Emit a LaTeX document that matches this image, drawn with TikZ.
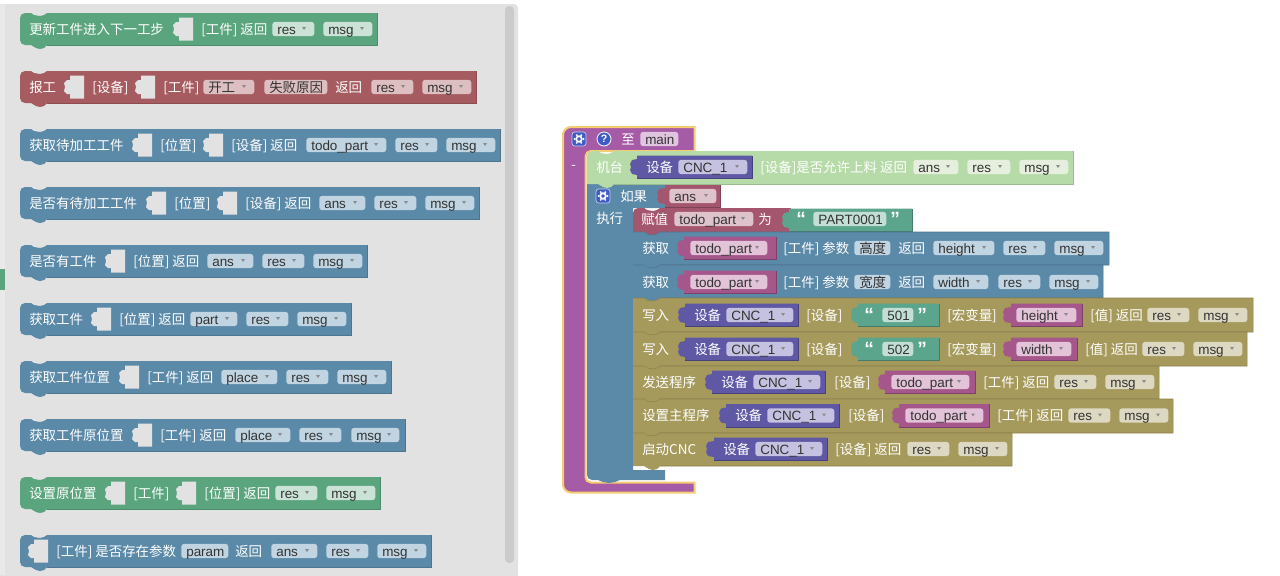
\documentclass[tikz,border=0pt]{standalone}
\usepackage{fontspec}
\setmainfont{Liberation Sans}
\newfontfamily\cjk{Noto Sans CJK SC}
\usetikzlibrary{positioning}

\definecolor{palgrey}{HTML}{E2E2E2}
\definecolor{stripgrey}{HTML}{E9E9E9}
\definecolor{scrollgrey}{HTML}{CBCBCB}
\definecolor{greenblk}{HTML}{5BA57E}
\definecolor{redblk}{HTML}{A55B5F}
\definecolor{blueblk}{HTML}{5B89A8}
\definecolor{tanblk}{HTML}{A5995B}
\definecolor{violetblk}{HTML}{5F58A5}
\definecolor{magentablk}{HTML}{A5568B}
\definecolor{roseblk}{HTML}{A5566F}
\definecolor{strblk}{HTML}{5BA58C}
\definecolor{hatblk}{HTML}{A55BA5}
\definecolor{limeblk}{HTML}{B7DBA8}
\definecolor{glow}{HTML}{F6CC72}
\definecolor{iconblue}{HTML}{3F5CC4}
\definecolor{greenpill}{HTML}{CBE3D6}
\definecolor{redpill}{HTML}{DEBFC1}
\definecolor{bluepill}{HTML}{C0D4E1}
\definecolor{tanpill}{HTML}{DDD8C2}
\definecolor{violetpill}{HTML}{C5C1E0}
\definecolor{magentapill}{HTML}{E3C3D8}
\definecolor{rosepill}{HTML}{DFC3CC}
\definecolor{strpill}{HTML}{C3DFD5}
\definecolor{hatpill}{HTML}{E0C5E0}
\definecolor{limepill}{HTML}{E6EFDD}

\tikzstyle{lbl} = [anchor=west, inner sep=0pt, xshift=-.75pt, text=white,
    font=\fontsize{10.1pt}{12pt}\selectfont, text height=9pt, text depth=1.3pt]
\tikzstyle{quotemark} = [lbl, font=\bfseries\Large]
\tikzstyle{pillbox} = [anchor=west, rounded corners=2.2pt, inner xsep=3.75pt, inner ysep=0pt,
    minimum height=10.8pt, text=black!80, align=left, font=\fontsize{10.1pt}{12pt}\selectfont,
    text height=9pt, text depth=1.3pt]
\tikzstyle{helpicon} = [circle, fill=iconblue, draw=white, line width=.6pt, inner sep=0pt,
    minimum size=10.5pt, text=white, font=\bfseries\fontsize{8pt}{8pt}\selectfont]

% palette block with notch and tab: xl, xr, ytop, ybottom, colour
\newcommand{\stackbar}[5]{
  \fill[#5] (#1,#3+5) to[out=90,in=180] (#1+5,#3) -- (#1+11,#3) -- (#1+14,#3+2) -- (#1+20,#3+3)
    -- (#1+24,#3+2) -- (#1+27,#3) -- (#2,#3) -- (#2,#4) -- (#1+27,#4) -- (#1+24,#4+3)
    -- (#1+20,#4+4) -- (#1+16,#4+3) -- (#1+11,#4) -- (#1+5,#4) to[out=180,in=-90] (#1,#4-5) -- cycle;
  \draw[#5!85!black, line width=.4pt] (#2,#3) -- (#2,#4) -- (#1+27,#4);
}
% first block of a stack, round top corner only
\newcommand{\stacktop}[5]{
  \fill[#5] (#1,#3+5) to[out=90,in=180] (#1+5,#3) -- (#1+11,#3) -- (#1+14,#3+2) -- (#1+20,#3+3)
    -- (#1+24,#3+2) -- (#1+27,#3) -- (#2,#3) -- (#2,#4) -- (#1+27,#4) -- (#1+24,#4+3)
    -- (#1+20,#4+4) -- (#1+16,#4+3) -- (#1+11,#4) -- (#1,#4) -- cycle;
  \draw[#5!85!black, line width=.4pt] (#2,#3) -- (#2,#4) -- (#1+27,#4);
}
% next block of a stack, all square
\newcommand{\stackrow}[5]{
  \fill[#5] (#1,#3) -- (#1+11,#3) -- (#1+14,#3+2) -- (#1+20,#3+3)
    -- (#1+24,#3+2) -- (#1+27,#3) -- (#2,#3) -- (#2,#4) -- (#1+27,#4) -- (#1+24,#4+3)
    -- (#1+20,#4+4) -- (#1+16,#4+3) -- (#1+11,#4) -- (#1,#4) -- cycle;
  \draw[#5!85!black, line width=.4pt] (#1,#3) -- (#1+11,#3) -- (#1+14,#3+2) -- (#1+20,#3+3)
    -- (#1+24,#3+2) -- (#1+27,#3) -- (#2,#3) -- (#2,#4) -- (#1+27,#4);
}
% empty input socket: x, y
\newcommand{\socket}[2]{
  \fill[palgrey] (#1+6,#2-11.5) -- (#1+20,#2-11.5) -- (#1+20,#2+11.5) -- (#1+6,#2+11.5) -- (#1+6,#2+7)
    -- (#1+3,#2+7) -- (#1,#2+4) -- (#1+1,#2) -- (#1,#2-4) -- (#1+3,#2-7) -- (#1+6,#2-7) -- cycle;
}
% plugged value block: colour, xtab, xl, xr, y
\newcommand{\valblock}[5]{
  \fill[#1] (#3,#5-11.5) -- (#4,#5-11.5) -- (#4,#5+11.5) -- (#3,#5+11.5) -- (#3,#5+8) -- (#2+2,#5+7)
    -- (#2,#5+3) -- (#2+1,#5) -- (#2,#5-3) -- (#2+2,#5-7) -- (#3,#5-8) -- cycle;
  \draw[#1!75!black, line width=.3pt] (#3,#5+11.5) -- (#4,#5+11.5) -- (#4,#5-11.5);
}
% dropdown field with arrow: name, colour, xl, xr, y, text
\newcommand{\pill}[6]{
  \node[pillbox, fill=#2, minimum width={(#4-#3)*.75pt}, text width={(#4-#3-10)*.75pt}] (#1) at (#3,#5) {#6};
  \fill[black!45] (#4-12,#5-2) -- (#4-8,#5-2) -- (#4-10,#5+1) -- cycle;
}
% plain text field: name, colour, xl, xr, y, text
\newcommand{\tagpill}[6]{
  \node[pillbox, fill=#2, minimum width={(#4-#3)*.75pt}, text width={(#4-#3-10)*.75pt}] (#1) at (#3,#5) {#6};
}
% name, x, y, text
\newcommand{\lbl}[4]{\node[lbl] (#1) at (#2,#3) {\cjk #4};}
% device block: xtab, xl, xr, y, name of its parts
\newcommand{\devblock}[5]{
  \valblock{violetblk}{#1}{#2}{#3}{#4}
  \lbl{#5a}{#2+10}{#4}{设备}
  \pgfmathsetmacro\pl{#2+41}
  \pgfmathsetmacro\pr{#3-5}
  \pill{#5b}{violetpill}{\pl}{\pr}{#4}{CNC\_1}
}
% gear icon: x, y
\newcommand{\gearicon}[2]{
  \fill[iconblue, draw=white!70!iconblue, line width=.5pt, rounded corners=2pt] (#1-7,#2-7) rectangle (#1+7,#2+7);
  \draw[white, line width=1.3pt] (#1,#2) circle (2.8);
  \foreach \a in {0,60,...,300} \fill[white] (#1,#2) ++(\a:4.4) circle (1.1);
}

\begin{document}
\begin{tikzpicture}[x=.75pt, y=-.75pt]
\useasboundingbox (0,0) rectangle (1280,575);

% palette
\fill[palgrey, rounded corners=3pt] (0,4) rectangle (518,580);
\fill[stripgrey] (0,4) rectangle (5,575);
\fill[greenblk] (0,269) rectangle (5,290);
\fill[scrollgrey, rounded corners=3pt] (505,6) rectangle (514,563);

% row 1
\stackbar{20}{377}{13}{45}{greenblk}
\lbl{aa}{30}{29}{更新工件进入下一工步}
\socket{173}{29}
\lbl{ab}{202}{29}{[工件] 返回}
\pill{ac}{greenpill}{272}{314}{29}{res}
\pill{ad}{greenpill}{323}{372}{29}{msg}
% row 2
\stackbar{20}{476}{71}{103}{redblk}
\lbl{ba}{30}{87}{报工}
\socket{64}{87}
\lbl{bb}{93}{87}{[设备]}
\socket{135}{87}
\lbl{bc}{164}{87}{[工件]}
\pill{bd}{redpill}{203}{254}{87}{\cjk 开工}
\tagpill{be}{redpill}{264}{327}{87}{\cjk 失败原因}
\lbl{bf}{336}{87}{返回}
\pill{bg}{redpill}{371}{413}{87}{res}
\pill{bh}{redpill}{422}{471}{87}{msg}
% row 3
\stackbar{20}{500}{129}{161}{blueblk}
\lbl{ca}{30}{145}{获取待加工工件}
\socket{132}{145}
\lbl{cb}{161}{145}{[位置]}
\socket{203}{145}
\lbl{cc}{232}{145}{[设备] 返回}
\pill{cd}{bluepill}{306}{386}{145}{todo\_part}
\pill{ce}{bluepill}{395}{437}{145}{res}
\pill{cf}{bluepill}{446}{495}{145}{msg}
% row 4
\stackbar{20}{479}{187}{219}{blueblk}
\lbl{da}{30}{203}{是否有待加工工件}
\socket{146}{203}
\lbl{db}{175}{203}{[位置]}
\socket{217}{203}
\lbl{dc}{246}{203}{[设备] 返回}
\pill{dd}{bluepill}{319}{365}{203}{ans}
\pill{de}{bluepill}{374}{416}{203}{res}
\pill{df}{bluepill}{425}{474}{203}{msg}
% row 5
\stackbar{20}{367}{245}{277}{blueblk}
\lbl{ea}{30}{261}{是否有工件}
\socket{105}{261}
\lbl{eb}{134}{261}{[位置] 返回}
\pill{ec}{bluepill}{207}{253}{261}{ans}
\pill{ed}{bluepill}{262}{304}{261}{res}
\pill{ee}{bluepill}{313}{362}{261}{msg}
% row 6
\stackbar{20}{351}{303}{335}{blueblk}
\lbl{fa}{30}{319}{获取工件}
\socket{91}{319}
\lbl{fb}{120}{319}{[位置] 返回}
\pill{fc}{bluepill}{190}{237}{319}{part}
\pill{fd}{bluepill}{246}{288}{319}{res}
\pill{fe}{bluepill}{297}{346}{319}{msg}
% row 7
\stackbar{20}{391}{361}{393}{blueblk}
\lbl{ga}{30}{377}{获取工件位置}
\socket{119}{377}
\lbl{gb}{148}{377}{[工件] 返回}
\pill{gc}{bluepill}{221}{277}{377}{place}
\pill{gd}{bluepill}{286}{328}{377}{res}
\pill{ge}{bluepill}{337}{386}{377}{msg}
% row 8
\stackbar{20}{405}{419}{451}{blueblk}
\lbl{ha}{30}{435}{获取工件原位置}
\socket{132}{435}
\lbl{hb}{161}{435}{[工件] 返回}
\pill{hc}{bluepill}{235}{290}{435}{place}
\pill{hd}{bluepill}{299}{341}{435}{res}
\pill{he}{bluepill}{351}{399}{435}{msg}
% row 9
\stackbar{20}{380}{477}{509}{greenblk}
\lbl{ia}{30}{493}{设置原位置}
\socket{105}{493}
\lbl{ib}{134}{493}{[工件]}
\socket{176}{493}
\lbl{ic}{205}{493}{[位置] 返回}
\pill{id}{greenpill}{275}{317}{493}{res}
\pill{ie}{greenpill}{326}{375}{493}{msg}
% row 10
\stackbar{20}{431}{535}{567}{blueblk}
\socket{28}{551}
\lbl{ja}{57}{551}{[工件] 是否存在参数}
\tagpill{jb}{bluepill}{181}{228}{551}{param}
\lbl{jc}{236}{551}{返回}
\pill{jd}{bluepill}{271}{317}{551}{ans}
\pill{je}{bluepill}{326}{368}{551}{res}
\pill{jf}{bluepill}{377}{426}{551}{msg}

% hat block
\fill[hatblk, draw=glow, line width=1.5pt] (610,127) -- (694.5,127) -- (694.5,151) -- (600,151)
  [rounded corners=4pt] -- (585.5,151) -- (585.5,482.5) [sharp corners] -- (694.5,482.5) -- (694.5,492.5)
  [rounded corners=6pt] -- (563,492.5) -- (563,127) [sharp corners] -- cycle;
\gearicon{579}{139}
\node[helpicon] (help) at (604,139) {?};
\lbl{hatto}{622}{139}{至}
\tagpill{hatmain}{hatpill}{640}{678}{139}{main}
\node[lbl] (hatminus) at (572,164) {-};

% blue if block
\fill[blueblk] (587,178) -- (600,178) -- (600,184) -- (665,184) -- (665,208) -- (633,208) -- (633,470) -- (665,470)
  -- (665,480) -- (620,480) -- (615,482) -- (609,483) -- (603,482) -- (598,480) -- (592,480)
  to[out=180,in=-90] (587,475) -- cycle;
\gearicon{603}{196}
\lbl{ifa}{621}{196}{如果}
\lbl{ifb}{597}{218}{执行}
\valblock{roseblk}{657}{665}{720}{196}
\pill{ifc}{rosepill}{669}{716}{196}{ans}

% lime block
\stacktop{587}{1073}{151}{184}{limeblk}
\lbl{ka}{597}{167}{机台}
\devblock{630}{637}{752}{167}{kb}
\lbl{kc}{761}{167}{[设备]是否允许上料 返回}
\pill{kd}{limepill}{913}{958}{167}{ans}
\pill{ke}{limepill}{967}{1010}{167}{res}
\pill{kf}{limepill}{1019}{1068}{167}{msg}

% assign block
\stacktop{633}{790}{208}{232}{roseblk}
\lbl{la}{642}{219}{赋值}
\pill{lb}{rosepill}{674}{753}{219}{todo\_part}
\lbl{lc}{759}{219}{为}
\valblock{strblk}{782}{789}{912}{220}
\node[quotemark] (ld) at (797,220) {“};
\tagpill{le}{strpill}{813}{886}{219}{PART0001}
\node[quotemark] (lf) at (891,220) {”};

% read blocks
\stackrow{633}{1109}{232}{265}{blueblk}
\lbl{ma}{643}{248}{获取}
\valblock{magentablk}{677}{684}{776}{248}
\pill{mb}{magentapill}{690}{767}{248}{todo\_part}
\lbl{mc}{784}{248}{[工件] 参数}
\tagpill{md}{bluepill}{854}{890}{248}{\cjk 高度}
\lbl{me}{899}{248}{返回}
\pill{mf}{bluepill}{933}{994}{248}{height}
\pill{mg}{bluepill}{1003}{1045}{248}{res}
\pill{mh}{bluepill}{1054}{1103}{248}{msg}

\stackrow{633}{1103}{265}{298}{blueblk}
\lbl{na}{643}{282}{获取}
\valblock{magentablk}{677}{684}{776}{282}
\pill{nb}{magentapill}{690}{767}{282}{todo\_part}
\lbl{nc}{784}{282}{[工件] 参数}
\tagpill{nd}{bluepill}{854}{890}{282}{\cjk 宽度}
\lbl{ne}{899}{282}{返回}
\pill{nf}{bluepill}{933}{988}{282}{width}
\pill{ng}{bluepill}{998}{1040}{282}{res}
\pill{nh}{bluepill}{1049}{1098}{282}{msg}

% write blocks
\stackrow{633}{1253}{298}{332}{tanblk}
\lbl{oa}{643}{315}{写入}
\devblock{678}{685}{798}{315}{ob}
\lbl{oc}{807}{315}{[设备]}
\valblock{strblk}{851}{858}{939}{315}
\node[quotemark] (od) at (865,316) {“};
\tagpill{oe}{strpill}{882}{913}{315}{501}
\node[quotemark] (of) at (918,316) {”};
\lbl{og}{948}{315}{[宏变量]}
\valblock{magentablk}{1003}{1011}{1082}{315}
\pill{oh}{magentapill}{1016}{1076}{315}{height}
\lbl{oi}{1091}{315}{[值] 返回}
\pill{oj}{tanpill}{1147}{1189}{315}{res}
\pill{ok}{tanpill}{1198}{1247}{315}{msg}

\stackrow{633}{1247}{332}{366}{tanblk}
\lbl{pa}{643}{349}{写入}
\devblock{678}{685}{798}{349}{pb}
\lbl{pc}{807}{349}{[设备]}
\valblock{strblk}{851}{858}{939}{349}
\node[quotemark] (pd) at (865,350) {“};
\tagpill{pe}{strpill}{882}{913}{349}{502}
\node[quotemark] (pf) at (918,350) {”};
\lbl{pg}{948}{349}{[宏变量]}
\valblock{magentablk}{1003}{1011}{1077}{349}
\pill{ph}{magentapill}{1016}{1071}{349}{width}
\lbl{pi}{1086}{349}{[值] 返回}
\pill{pj}{tanpill}{1142}{1184}{349}{res}
\pill{pk}{tanpill}{1193}{1242}{349}{msg}

% send and main program blocks
\stackrow{633}{1159}{366}{399}{tanblk}
\lbl{qa}{643}{382}{发送程序}
\devblock{705}{712}{825}{382}{qb}
\lbl{qc}{835}{382}{[设备]}
\valblock{magentablk}{878}{885}{975}{382}
\pill{qd}{magentapill}{891}{969}{382}{todo\_part}
\lbl{qe}{984}{382}{[工件] 返回}
\pill{qf}{tanpill}{1054}{1096}{382}{res}
\pill{qg}{tanpill}{1105}{1154}{382}{msg}

\stackrow{633}{1173}{399}{433}{tanblk}
\lbl{ra}{643}{415.5}{设置主程序}
\devblock{719}{726}{839}{415.5}{rb}
\lbl{rc}{849}{415.5}{[设备]}
\valblock{magentablk}{892}{899}{989}{415.5}
\pill{rd}{magentapill}{905}{983}{415.5}{todo\_part}
\lbl{re}{998}{415.5}{[工件] 返回}
\pill{rf}{tanpill}{1068}{1110}{415.5}{res}
\pill{rg}{tanpill}{1119}{1168}{415.5}{msg}

% start block
\stackrow{633}{1012}{433}{466}{tanblk}
\lbl{sa}{643}{449}{启动CNC}
\devblock{706}{714}{827}{449}{sb}
\lbl{sc}{836}{449}{[设备] 返回}
\pill{sd}{tanpill}{907}{949}{449}{res}
\pill{se}{tanpill}{958}{1007}{449}{msg}

\end{tikzpicture}
\end{document}
